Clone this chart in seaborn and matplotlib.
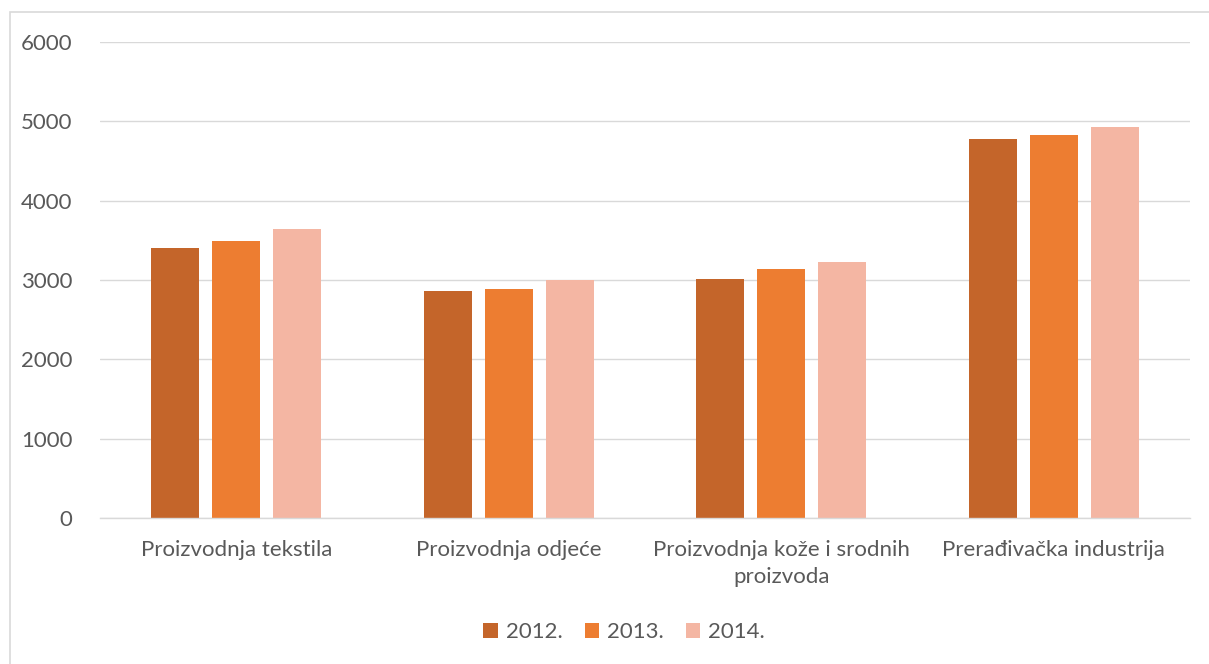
import matplotlib
matplotlib.use("Agg")
import matplotlib.pyplot as plt
import seaborn as sns
import pandas as pd
from matplotlib.patches import Rectangle, Patch

categories = ["Proizvodnja tekstila", "Proizvodnja odjeće",
              "Proizvodnja kože i srodnih\nproizvoda", "Prerađivačka industrija"]
years = ["2012.", "2013.", "2014."]
v2012 = [3400, 2860, 3015, 4778]
v2013 = [3492, 2886, 3139, 4828]
v2014 = [3643, 3000, 3227, 4929]
colors = ["#C4652A", "#ED7D31", "#F4B6A3"]

rows = []
for yr, vals in zip(years, [v2012, v2013, v2014]):
    for c, v in zip(categories, vals):
        rows.append({"cat": c, "year": yr, "val": v})
df = pd.DataFrame(rows)

sns.set_theme(style="white")
plt.rcParams['font.family'] = ['Lato', 'DejaVu Sans']
fig = plt.figure(figsize=(12.09, 6.64), dpi=100)
ax = fig.add_axes([100/1209, 1-518/664, 1090/1209, 476/664])

sns.barplot(data=df, x="cat", y="val", hue="year", order=categories,
            hue_order=years, palette=colors, width=0.67, gap=0.21,
            saturation=1, ax=ax, legend=False, linewidth=0, edgecolor="none")

ax.set_ylim(0, 6000)
ax.set_yticks(range(0, 6001, 1000))
ax.yaxis.grid(True, color="#D9D9D9", linewidth=1)
ax.set_axisbelow(True)
for s in ["top", "right", "left"]:
    ax.spines[s].set_visible(False)
ax.spines["bottom"].set_color("#D9D9D9")
ax.spines["bottom"].set_linewidth(1)
ax.set_xlabel("")
ax.set_ylabel("")
ax.tick_params(axis="both", length=0, labelsize=16, colors="#595959")
ax.tick_params(axis="y", pad=20)
ax.tick_params(axis="x", pad=16)
for t in ax.get_xticklabels():
    t.set_linespacing(1.4)

handles = [Patch(facecolor=c, edgecolor="none") for c in colors]
fig.legend(handles, years, loc="center", bbox_to_anchor=(624/1209, 1-632/664),
           ncol=3, frameon=False, fontsize=16, handlelength=0.65,
           handleheight=0.65, handletextpad=0.35, columnspacing=1.0,
           labelcolor="#595959")

fig.patches.append(Rectangle((10/1209, -0.01), 1.2, 1-12/664+0.01,
                             transform=fig.transFigure, fill=False,
                             edgecolor="#D9D9D9", linewidth=1.2))

fig.savefig("out.png", dpi=100)
